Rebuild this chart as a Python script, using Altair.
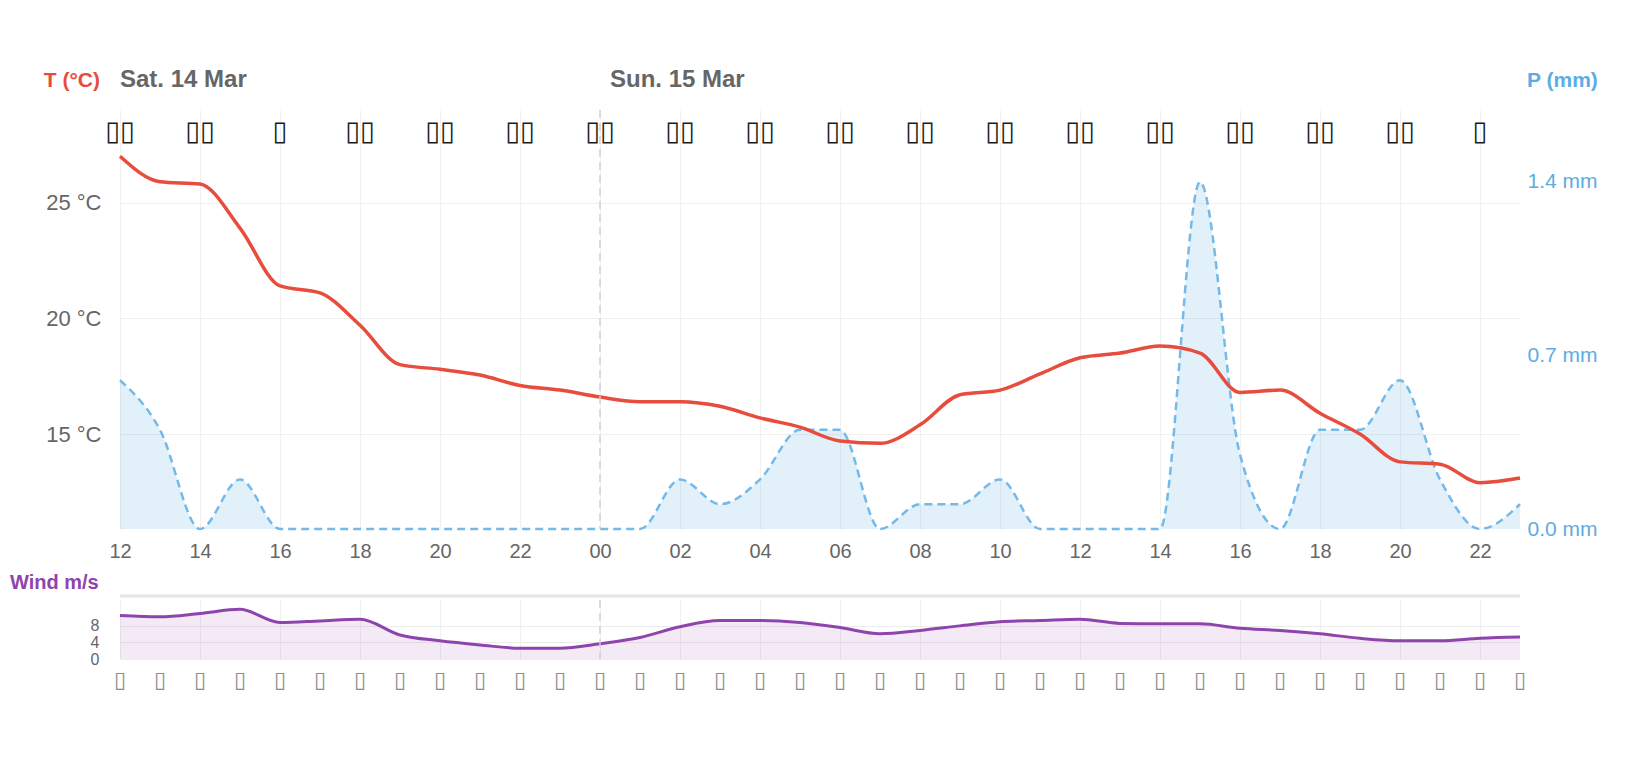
import altair as alt
import pandas as pd

FONT = "Liberation Sans"

# ---- data -------------------------------------------------------------
times = pd.date_range("2026-03-14 12:00", periods=36, freq="h")

temperature = [27.0, 25.9, 25.8, 23.9, 21.4, 21.1, 19.7, 18.0, 17.8, 17.55,
               17.1, 16.9, 16.6, 16.4, 16.4, 16.2, 15.7, 15.3, 14.7, 14.6,
               15.4, 16.7, 16.9, 17.6, 18.3, 18.5, 18.8, 18.5, 16.8, 16.9,
               15.9, 15.0, 13.8, 13.7, 12.9, 13.1]

precipitation = [0.6, 0.4, 0.0, 0.2, 0.0, 0.0, 0.0, 0.0, 0.0, 0.0,
                 0.0, 0.0, 0.0, 0.0, 0.2, 0.1, 0.2, 0.4, 0.4, 0.0,
                 0.1, 0.1, 0.2, 0.0, 0.0, 0.0, 0.0, 1.4, 0.3, 0.0,
                 0.4, 0.4, 0.6, 0.2, 0.0, 0.1]

wind_speed = [10.5, 10.2, 11.0, 12.0, 8.8, 9.2, 9.6, 5.8, 4.4, 3.4,
              2.6, 2.6, 3.7, 5.2, 7.8, 9.3, 9.3, 8.8, 7.6, 6.1,
              6.9, 8.0, 9.0, 9.3, 9.6, 8.6, 8.5, 8.5, 7.4, 6.9,
              6.1, 5.0, 4.4, 4.4, 5.0, 5.3]

# weather symbols / wind arrows are shown as missing-glyph boxes
wind_arrows = ["\u25AF"] * 36

icon_times = pd.date_range("2026-03-14 12:00", periods=18, freq="2h")
icons = ["\u25AF\u25AF"] * 18
icons[2] = "\u25AF"
icons[17] = "\u25AF"

tick_times = [alt.DateTime(year=2026, month=3, date=14 + (12 + 2 * i) // 24,
                           hours=(12 + 2 * i) % 24) for i in range(18)]

temp_ticks = [15, 20, 25]
precip_ticks = [0.0, 0.7, 1.4]
wind_ticks = [0, 4, 8]

day_names = ["Sat. 14 Mar", "Sun. 15 Mar"]
day_starts = [pd.Timestamp("2026-03-14 12:00"), pd.Timestamp("2026-03-15 00:00")]

df = pd.DataFrame({"time": times, "temp": temperature,
                   "precip": precipitation, "wind": wind_speed,
                   "arrow": wind_arrows})
icon_df = pd.DataFrame({"time": icon_times, "icon": icons})
day_df = pd.DataFrame({"time": day_starts, "name": day_names})
mid_df = pd.DataFrame({"time": [day_starts[1]]})
one = pd.DataFrame({"k": [0]})

# ---- styling ----------------------------------------------------------
RED = "#e74c3c"
BLUE = "#5dade2"
BLUE_LINE = "#74b9e8"
PURPLE = "#8e44ad"
GRAY = "#666666"
GRID = "#f0f0f0"

W = 1400
H_MAIN = 419
H_WIND = 59

xscale = alt.Scale(domain=[alt.DateTime(year=2026, month=3, date=14, hours=12),
                           alt.DateTime(year=2026, month=3, date=15, hours=23)])

x_main = alt.X("time:T", scale=xscale, title=None,
               axis=alt.Axis(format="%H", values=tick_times, grid=True,
                             gridColor=GRID, domain=False, ticks=False,
                             labelColor=GRAY, labelFontSize=20,
                             labelPadding=12, labelFont=FONT,
                             labelFlush=False, labelOverlap=False))

base = alt.Chart(df)

precip_y = alt.Y("precip:Q", scale=alt.Scale(domain=[0, 1.69], nice=False),
                 title=None,
                 axis=alt.Axis(orient="right", values=precip_ticks, grid=False,
                               domain=False, ticks=False, labelColor=BLUE,
                               labelFontSize=21, labelPadding=7, labelFont=FONT,
                               labelExpr="format(datum.value, '.1f') + ' mm'"))
precip_area = base.mark_area(interpolate="monotone", color=BLUE,
                             opacity=0.18).encode(x=x_main, y=precip_y)
precip_line = base.mark_line(interpolate="monotone", color=BLUE_LINE,
                             strokeDash=[8, 5], strokeWidth=2.5).encode(
    x=x_main, y=precip_y)
precip = alt.layer(precip_area, precip_line)

temp_line = base.mark_line(interpolate="monotone", color=RED,
                           strokeWidth=3.5).encode(
    x=x_main,
    y=alt.Y("temp:Q", scale=alt.Scale(domain=[10.9, 29.0], nice=False),
            title=None,
            axis=alt.Axis(values=temp_ticks, grid=True, gridColor=GRID,
                          domain=False, ticks=False, labelColor=GRAY,
                          labelFontSize=22, labelPadding=19, labelFont=FONT,
                          labelExpr="datum.value + ' °C'")))

mid_rule_main = alt.Chart(mid_df).mark_rule(color="#cfcfd6", strokeDash=[8, 5],
                                            strokeWidth=1.5).encode(x=x_main)

icon_text = alt.Chart(icon_df).mark_text(font="DejaVu Sans", fontSize=27,
                                         fontWeight="bold", color="#1a1a1a",
                                         baseline="middle").encode(
    x=x_main, y=alt.value(22), text="icon:N")

hdr_T = alt.Chart(one).mark_text(text="T (°C)", font=FONT, fontSize=21,
                                 fontWeight="bold", color=RED, align="right",
                                 baseline="alphabetic").encode(
    x=alt.value(-20), y=alt.value(-23))
hdr_P = alt.Chart(one).mark_text(text="P (mm)", font=FONT, fontSize=21,
                                 fontWeight="bold", color=BLUE, align="left",
                                 baseline="alphabetic").encode(
    x=alt.value(W + 7), y=alt.value(-23))
hdr_sat = alt.Chart(day_df.iloc[:1]).mark_text(
    font=FONT, fontSize=24, fontWeight="bold", color=GRAY, align="left",
    baseline="alphabetic").encode(
    x=alt.value(0), y=alt.value(-23), text="name:N")
hdr_sun = alt.Chart(day_df.iloc[1:]).mark_text(
    font=FONT, fontSize=24, fontWeight="bold", color=GRAY, align="left",
    baseline="alphabetic", dx=10).encode(
    x=x_main, y=alt.value(-23), text="name:N")

main = alt.layer(precip, temp_line, mid_rule_main, icon_text,
                 hdr_T, hdr_P, hdr_sat, hdr_sun).resolve_scale(
    y="independent").properties(width=W, height=H_MAIN)

# ---- wind panel -------------------------------------------------------
x_wind = alt.X("time:T", scale=xscale, title=None,
               axis=alt.Axis(labels=False, ticks=False, domain=False,
                             grid=True, gridColor=GRID, values=tick_times))
wind_y = alt.Y("wind:Q", scale=alt.Scale(domain=[0, 14.25], nice=False),
               title=None,
               axis=alt.Axis(values=wind_ticks, grid=True, gridColor="#ececec",
                             domain=False, ticks=False, labelColor=GRAY,
                             labelFontSize=16, labelPadding=21, labelFont=FONT,
                             labelOverlap=False, labelFlush=False))
wbase = alt.Chart(df)
wind_area = wbase.mark_area(interpolate="monotone", color=PURPLE,
                            opacity=0.11).encode(x=x_wind, y=wind_y)
wind_line = wbase.mark_line(interpolate="monotone", color=PURPLE,
                            strokeWidth=3).encode(x=x_wind, y=wind_y)

mid_rule_wind = alt.Chart(mid_df).mark_rule(color="#cfcfd6", strokeDash=[8, 5],
                                            strokeWidth=1.5).encode(x=x_wind)
top_rule = alt.Chart(one).mark_rule(color="#e6e6e6", strokeWidth=3).encode(
    x=alt.value(0), x2=alt.value(W), y=alt.value(-4))
arrow_text = wbase.mark_text(font="DejaVu Sans", fontSize=22,
                             color="#8c8c8c", baseline="middle").encode(
    x=x_wind, y=alt.value(80), text="arrow:N")
wind_title = alt.Chart(one).mark_text(text="Wind m/s", font=FONT, fontSize=20,
                                      fontWeight="bold", color=PURPLE,
                                      align="left", baseline="middle").encode(
    x=alt.value(-110), y=alt.value(-17))

wind = alt.layer(wind_area, wind_line, mid_rule_wind, top_rule, arrow_text,
                 wind_title).properties(width=W, height=H_WIND)

chart = alt.vconcat(main, wind, spacing=71, bounds="flush").properties(
    padding={"left": 2, "top": 60, "right": 5, "bottom": 5},
).configure(font=FONT).configure_view(stroke=None)

chart.save("out.html", embed_options={"renderer": "svg", "actions": False})
